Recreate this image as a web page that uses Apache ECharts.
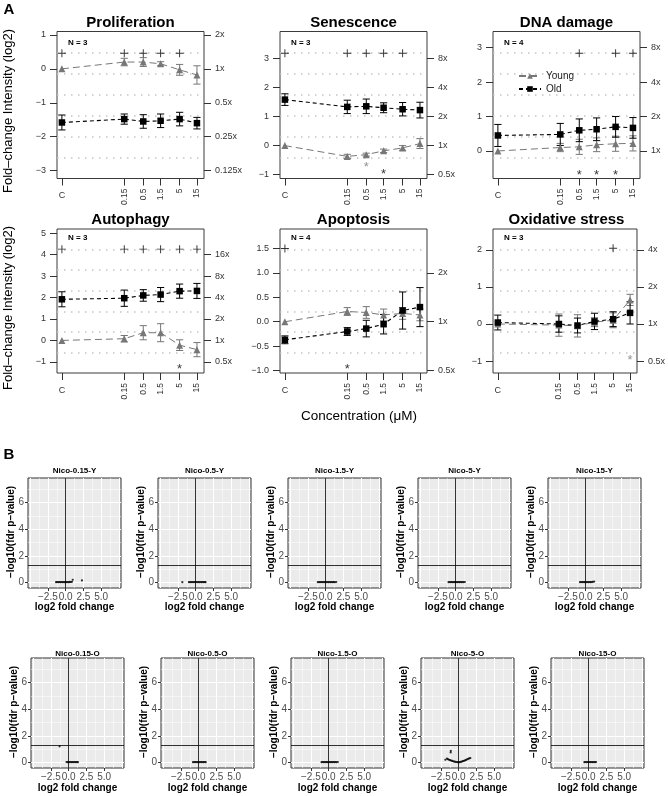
<!DOCTYPE html>
<html><head><meta charset="utf-8">
<script src="https://cdn.jsdelivr.net/npm/echarts@6/dist/echarts.min.js"></script>
<style>html,body{margin:0;padding:0;background:#fff}#c{width:668px;height:796px}</style>
</head><body><div id="c"></div>
<script>
const FONT = '"Liberation Sans", Arial, Helvetica, sans-serif';

// ---------- Panel A data ----------
const concentrations = ['C', '0.15', '0.5', '1.5', '5', '15'];

const prolifYoung    = [0, 0.20, 0.20, 0.15, -0.03, -0.18];
const prolifYoungErr = [0, 0.11, 0.13, 0.06, 0.16, 0.27];
const prolifOld      = [-1.58, -1.48, -1.55, -1.53, -1.48, -1.60];
const prolifOldErr   = [0.22, 0.15, 0.20, 0.20, 0.20, 0.17];
const prolifPlus     = ['C', '0.15', '0.5', '1.5', '5'];
const prolifPlusY    = 0.46;
const prolifStars    = [];
const prolifTicks    = [-3, -2, -1, 0, 1];
const prolifFold     = [-3, -2, -1, 0, 1];

const senYoung    = [0, -0.37, -0.31, -0.18, -0.08, 0.07];
const senYoungErr = [0, 0.07, 0.05, 0.06, 0.08, 0.17];
const senOld      = [1.58, 1.33, 1.35, 1.30, 1.25, 1.22];
const senOldErr   = [0.20, 0.23, 0.25, 0.17, 0.23, 0.27];
const senPlus     = ['C', '0.15', '0.5', '1.5', '5'];
const senPlusY    = 3.17;
const senStars    = [['0.5', -0.64, 'young'], ['1.5', -0.89, 'old']];
const senTicks    = [-1, 0, 1, 2, 3];
const senFold     = [-1, 0, 1, 2, 3];

const dnaYoung    = [0, 0.10, 0.12, 0.18, 0.21, 0.22];
const dnaYoungErr = [0, 0.12, 0.22, 0.20, 0.22, 0.22];
const dnaOld      = [0.45, 0.48, 0.60, 0.63, 0.70, 0.67];
const dnaOldErr   = [0.32, 0.32, 0.33, 0.33, 0.30, 0.30];
const dnaPlus     = ['0.5', '5', '15'];
const dnaPlusY    = 2.84;
const dnaStars    = [['0.5', -0.61, 'old'], ['1.5', -0.61, 'old'], ['5', -0.61, 'old']];
const dnaTicks    = [0, 1, 2, 3];
const dnaFold     = [0, 1, 2, 3];

const autoYoung    = [0, 0.08, 0.36, 0.36, -0.22, -0.43];
const autoYoungErr = [0, 0.15, 0.33, 0.42, 0.25, 0.33];
const autoOld      = [1.92, 1.97, 2.10, 2.14, 2.30, 2.31];
const autoOldErr   = [0.35, 0.38, 0.27, 0.33, 0.33, 0.35];
const autoPlus     = ['C', '0.15', '0.5', '1.5', '5', '15'];
const autoPlusY    = 4.26;
const autoStars    = [['5', -1.2, 'old']];
const autoTicks    = [-1, 0, 1, 2, 3, 4, 5];
const autoFold     = [-1, 0, 1, 2, 3, 4];

const apoYoung    = [0, 0.21, 0.19, 0.14, 0.17, 0.14];
const apoYoungErr = [0, 0.08, 0.12, 0.12, 0.12, 0.12];
const apoOld      = [-0.37, -0.20, -0.14, -0.05, 0.23, 0.30];
const apoOldErr   = [0.08, 0.08, 0.17, 0.20, 0.38, 0.40];
const apoPlus     = ['C'];
const apoPlusY    = 1.5;
const apoStars    = [['0.15', -0.92, 'old']];
const apoTicks    = [-1.0, -0.5, 0.0, 0.5, 1.0, 1.5];
const apoFold     = [-1, 0, 1];

const oxYoung    = [0, -0.03, -0.05, 0.05, 0.10, 0.65];
const oxYoungErr = [0, 0.30, 0.30, 0.12, 0.20, 0.15];
const oxOld      = [0.04, 0.00, -0.04, 0.07, 0.13, 0.30];
const oxOldErr   = [0.20, 0.22, 0.20, 0.22, 0.20, 0.30];
const oxPlus     = ['5'];
const oxPlusY    = 2.04;
const oxStars    = [['15', -0.91, 'young']];
const oxTicks    = [-1, 0, 1, 2];
const oxFold     = [-1, 0, 1, 2];

// ---------- Panel B data (volcano points: [log2FC, -log10 fdr]) ----------
const volcanoXTicks = [-2.5, 0, 2.5, 5];
const volcanoYTicks = [0, 2, 4, 6];
const sigThreshold = 1.3;

const volNico015Y = [[-1.35,0.02],[-1.2,0.03],[-1.05,0.02],[-0.9,0.03],[-0.75,0.02],[-0.6,0.03],[-0.45,0.02],[-0.3,0.03],[-0.15,0.02],[0,0.03],[0.15,0.02],[0.3,0.03],[0.45,0.02],[0.6,0.04],[0.75,0.03],[0.9,0.05],[1.0,0.2],[2.3,0.15]];
const volNico05Y  = [[-1.87,0.02],[-0.95,0.02],[-0.8,0.03],[-0.65,0.02],[-0.5,0.03],[-0.35,0.02],[-0.2,0.03],[-0.05,0.02],[0.1,0.03],[0.25,0.02],[0.4,0.03],[0.55,0.02],[0.7,0.03],[0.85,0.02],[1.0,0.03],[1.15,0.02],[1.3,0.03],[1.4,0.02]];
const volNico15Y  = [[-1.1,0.02],[-0.95,0.03],[-0.8,0.02],[-0.65,0.03],[-0.5,0.02],[-0.35,0.03],[-0.2,0.02],[-0.05,0.03],[0.1,0.02],[0.25,0.03],[0.4,0.02],[0.55,0.03],[0.7,0.02],[0.85,0.03],[1.0,0.02],[1.15,0.03],[1.3,0.02],[1.5,0.03]];
const volNico5Y   = [[-1.0,0.02],[-0.85,0.03],[-0.7,0.02],[-0.55,0.03],[-0.4,0.02],[-0.25,0.03],[-0.1,0.02],[0.05,0.03],[0.2,0.02],[0.35,0.03],[0.5,0.02],[0.65,0.03],[0.8,0.02],[0.95,0.03],[1.1,0.02],[1.3,0.03]];
const volNico15Y_ = [[-0.8,0.02],[-0.65,0.03],[-0.5,0.02],[-0.35,0.03],[-0.2,0.02],[-0.05,0.03],[0.1,0.02],[0.25,0.03],[0.4,0.02],[0.55,0.03],[0.7,0.02],[0.85,0.03],[1.0,0.04],[1.2,0.06]];
const volNico015O = [[-1.27,1.21],[-0.3,0.03],[-0.15,0.02],[0,0.03],[0.15,0.02],[0.3,0.03],[0.45,0.02],[0.6,0.03],[0.75,0.02],[0.9,0.03],[1.05,0.02],[1.2,0.03],[1.3,0.02]];
const volNico05O  = [[-0.8,0.02],[-0.65,0.03],[-0.5,0.02],[-0.35,0.03],[-0.2,0.02],[-0.05,0.03],[0.1,0.02],[0.25,0.03],[0.4,0.02],[0.55,0.03],[0.7,0.02],[0.85,0.03],[1.0,0.02]];
const volNico15O  = [[-1.0,0.02],[-0.85,0.03],[-0.7,0.02],[-0.55,0.03],[-0.4,0.02],[-0.25,0.03],[-0.1,0.02],[0.05,0.03],[0.2,0.02],[0.35,0.03],[0.5,0.02],[0.65,0.03],[0.8,0.02],[0.95,0.03],[1.1,0.02],[1.3,0.03]];
const volNico5O   = [[-1.87,0.2],[-1.65,0.28],[-1.5,0.24],[-1.35,0.2],[-1.2,0.17],[-1.05,0.14],[-0.9,0.11],[-0.75,0.08],[-0.6,0.06],[-0.45,0.04],[-0.3,0.03],[-0.15,0.02],[0,0.01],[0.15,0.02],[0.3,0.04],[0.45,0.06],[0.6,0.09],[0.75,0.12],[0.9,0.15],[1.05,0.19],[1.2,0.23],[1.35,0.27],[1.5,0.3],[1.65,0.33],[-1.1,0.87],[-1.12,0.75]];
const volNico15O_ = [[-0.6,0.02],[-0.45,0.03],[-0.3,0.02],[-0.15,0.03],[0,0.02],[0.15,0.03],[0.3,0.02],[0.45,0.03],[0.6,0.02],[0.75,0.03],[0.9,0.02],[1.05,0.03]];

const volcanoNames = ['Nico-0.15-Y','Nico-0.5-Y','Nico-1.5-Y','Nico-5-Y','Nico-15-Y',
                      'Nico-0.15-O','Nico-0.5-O','Nico-1.5-O','Nico-5-O','Nico-15-O'];
const volcanoData = [volNico015Y, volNico05Y, volNico15Y, volNico5Y, volNico15Y_,
                     volNico015O, volNico05O, volNico15O, volNico5O, volNico15O_];

// ---------- layout / build ----------
const CONTROL_POS = -2.54;
const X_MIN = -2.675, X_MAX = 1.37;
const xPos = concentrations.map(c => c === 'C' ? CONTROL_POS : Math.log10(parseFloat(c)));
const minus = s => String(s).replace('-', '\u2212');
const PLUS = 'path://M4.4,0h1.2v4.4h4.4v1.2h-4.4v4.4h-1.2v-4.4h-4.4v-1.2h4.4z';

const grids = [], xAxes = [], yAxes = [], series = [], graphics = [];

function txt(x, y, text, font, opts) {
  graphics.push(Object.assign({type: 'text', x, y, silent: true,
    style: {text, font, fill: '#000', align: 'center', verticalAlign: 'middle'}}, opts || {}));
}

function errorSeries(xi, yi, means, errs, color) {
  const data = means.map((m, i) => [xPos[i], m, errs[i]]).filter(d => d[2] > 0);
  return {type: 'custom', xAxisIndex: xi, yAxisIndex: yi, data, z: 2, silent: true,
    encode: {x: 0, y: 1},
    renderItem(params, api) {
      const x = api.value(0), m = api.value(1), e = api.value(2);
      const a = api.coord([x, m + e]), b = api.coord([x, m - e]);
      const cw = 3.6, st = {stroke: color, lineWidth: 1};
      return {type: 'group', children: [
        {type: 'line', shape: {x1: a[0], y1: a[1], x2: b[0], y2: b[1]}, style: st},
        {type: 'line', shape: {x1: a[0] - cw, y1: a[1], x2: a[0] + cw, y2: a[1]}, style: st},
        {type: 'line', shape: {x1: b[0] - cw, y1: b[1], x2: b[0] + cw, y2: b[1]}, style: st}
      ]};
    }};
}

function addTopPanel(p, l, t, w, h) {
  const g = grids.length;
  grids.push({left: l, top: t, width: w, height: h, show: true, borderColor: '#3a3a3a', borderWidth: 1, backgroundColor: 'transparent'});
  grids.push({left: l, top: t + h / 7, width: w, height: h * 5 / 7, show: false});
  const xi = xAxes.length, yi = yAxes.length;
  const numPos = xPos.slice(1);
  xAxes.push({gridIndex: g, type: 'value', min: X_MIN, max: X_MAX, position: 'bottom',
    axisLine: {show: false}, splitLine: {show: false},
    axisTick: {show: true, length: 7, customValues: xPos, lineStyle: {color: '#333'}},
    axisLabel: {customValues: numPos, rotate: 90, margin: 10, fontSize: 8.5, color: '#333', fontFamily: FONT,
      formatter: v => concentrations[xPos.findIndex(q => Math.abs(q - v) < 1e-6)]}});
  xAxes.push({gridIndex: g, type: 'value', min: X_MIN, max: X_MAX, position: 'bottom',
    axisLine: {show: false}, splitLine: {show: false}, axisTick: {show: false},
    axisLabel: {customValues: [CONTROL_POS], margin: 13, fontSize: 9, color: '#333', fontFamily: FONT, formatter: () => 'C'}});
  xAxes.push({gridIndex: g + 1, type: 'value', show: false, min: 0, max: 1});
  yAxes.push({gridIndex: g, type: 'value', min: p.yMin, max: p.yMax, position: 'left',
    axisLine: {show: false}, splitLine: {show: false},
    axisTick: {length: 7, customValues: p.ticks, lineStyle: {color: '#333'}},
    axisLabel: {customValues: p.ticks, fontSize: 9, color: '#333', margin: 11, fontFamily: FONT,
      formatter: v => minus(p.dec ? v.toFixed(1) : String(Math.round(v)))}});
  yAxes.push({gridIndex: g, type: 'value', min: p.yMin, max: p.yMax, position: 'right',
    axisLine: {show: false}, splitLine: {show: false},
    axisTick: {length: 7, customValues: p.fold, lineStyle: {color: '#333'}},
    axisLabel: {customValues: p.fold, fontSize: 9, color: '#333', margin: 11, fontFamily: FONT,
      formatter: v => Math.pow(2, Math.round(v)) + 'x'}});
  yAxes.push({gridIndex: g + 1, type: 'value', min: 0, max: 5, interval: 1,
    axisLine: {show: false}, axisTick: {show: false}, axisLabel: {show: false},
    splitLine: {show: true, lineStyle: {color: '#c4c4c4', width: 1.5, type: [1.5, 5.5]}}});

  const xy = vals => vals.map((v, i) => [xPos[i], v]);
  series.push(errorSeries(xi, yi, p.young, p.youngErr, '#777'));
  series.push(errorSeries(xi, yi, p.old, p.oldErr, '#000'));
  series.push({type: 'line', name: 'Young', xAxisIndex: xi, yAxisIndex: yi, data: xy(p.young),
    symbol: 'triangle', symbolSize: 7, itemStyle: {color: '#777'}, z: 3,
    lineStyle: {color: '#777', width: 1, type: [7, 4]}});
  series.push({type: 'line', name: 'Old', xAxisIndex: xi, yAxisIndex: yi, data: xy(p.old),
    symbol: 'rect', symbolSize: 6.5, itemStyle: {color: '#000'}, z: 3,
    lineStyle: {color: '#000', width: 1.1, type: [4, 3]}});
  series.push({type: 'scatter', xAxisIndex: xi, yAxisIndex: yi, silent: true, z: 3,
    data: p.plus.map(c => [xPos[concentrations.indexOf(c)], p.plusY]),
    symbol: PLUS, symbolSize: 8, itemStyle: {color: '#000'}});
  series.push({type: 'scatter', xAxisIndex: xi, yAxisIndex: yi, silent: true, z: 3,
    data: p.stars.map(s => ({value: [xPos[concentrations.indexOf(s[0])], s[1]],
      label: {color: s[2] === 'young' ? '#777' : '#000'}})),
    symbolSize: 1, itemStyle: {color: 'rgba(0,0,0,0)'},
    label: {show: true, position: 'inside', formatter: '*', fontSize: 13, fontFamily: FONT, offset: [0, 3]}});

  txt(l + w / 2, p.titleY, p.title, 'bold 15px ' + FONT);
  txt(l + 11, p.nY, p.n, 'bold 8px ' + FONT, {style: {text: p.n, font: 'bold 8px ' + FONT, fill: '#000', align: 'left', verticalAlign: 'middle'}});
}

const colLeft = [57, 280, 493];
const PW = 147;
const topPanels = [
  {title: 'Proliferation', n: 'N = 3', young: prolifYoung, youngErr: prolifYoungErr, old: prolifOld, oldErr: prolifOldErr, plus: prolifPlus, plusY: prolifPlusY, stars: prolifStars, ticks: prolifTicks, fold: prolifFold, yMin: -3.23, yMax: 1.1},
  {title: 'Senescence', n: 'N = 3', young: senYoung, youngErr: senYoungErr, old: senOld, oldErr: senOldErr, plus: senPlus, plusY: senPlusY, stars: senStars, ticks: senTicks, fold: senFold, yMin: -1.13, yMax: 3.92},
  {title: 'DNA damage', n: 'N = 4', young: dnaYoung, youngErr: dnaYoungErr, old: dnaOld, oldErr: dnaOldErr, plus: dnaPlus, plusY: dnaPlusY, stars: dnaStars, ticks: dnaTicks, fold: dnaFold, yMin: -0.8, yMax: 3.47},
  {title: 'Autophagy', n: 'N = 3', young: autoYoung, youngErr: autoYoungErr, old: autoOld, oldErr: autoOldErr, plus: autoPlus, plusY: autoPlusY, stars: autoStars, ticks: autoTicks, fold: autoFold, yMin: -1.52, yMax: 5.2},
  {title: 'Apoptosis', n: 'N = 4', young: apoYoung, youngErr: apoYoungErr, old: apoOld, oldErr: apoOldErr, plus: apoPlus, plusY: apoPlusY, stars: apoStars, ticks: apoTicks, fold: apoFold, yMin: -1.05, yMax: 1.9, dec: true},
  {title: 'Oxidative stress', n: 'N = 3', young: oxYoung, youngErr: oxYoungErr, old: oxOld, oldErr: oxOldErr, plus: oxPlus, plusY: oxPlusY, stars: oxStars, ticks: oxTicks, fold: oxFold, yMin: -1.32, yMax: 2.56}
];
const rowTop = [31.5, 229], rowH = [147, 144], titleY = [23.3, 219.5], nY = [42.5, 237.5];
topPanels.forEach((p, i) => {
  const r = Math.floor(i / 3), c = i % 3;
  p.titleY = titleY[r]; p.nY = nY[r];
  addTopPanel(p, colLeft[c], rowTop[r], PW, rowH[r]);
});

// volcano panels
const VX_MIN = -5.3, VX_MAX = 7.8, VY_MIN = -0.42, VY_MAX = 7.85;
const VW = 93, VH = 110;
const vRowTop = [478, 658], vRowLeft = [28, 31], vTitleY = [471, 654], vXTitleY = [607, 788];
function addVolcano(name, pts, l, t, r) {
  const g = grids.length;
  grids.push({left: l, top: t, width: VW, height: VH, show: true, backgroundColor: '#EBEBEB', borderColor: '#333', borderWidth: 1});
  const xi = xAxes.length, yi = yAxes.length;
  xAxes.push({gridIndex: g, type: 'value', min: VX_MIN, max: VX_MAX, axisLine: {show: false}, splitLine: {show: false},
    axisTick: {length: 3, customValues: volcanoXTicks, lineStyle: {color: '#333'}},
    axisLabel: {customValues: volcanoXTicks, fontSize: 10, color: '#4D4D4D', margin: 4, fontFamily: FONT,
      formatter: v => minus(v.toFixed(1))}});
  xAxes.push({gridIndex: g, type: 'value', min: VX_MIN, max: VX_MAX, axisLine: {show: false}, axisLabel: {show: false},
    axisTick: {show: false, customValues: [-5, -2.5, 0, 2.5, 5, 7.5]}, splitLine: {show: true, lineStyle: {color: '#fff', width: 1}}});
  xAxes.push({gridIndex: g, type: 'value', min: VX_MIN, max: VX_MAX, axisLine: {show: false}, axisLabel: {show: false},
    axisTick: {show: false, customValues: [-3.75, -1.25, 1.25, 3.75, 6.25]}, splitLine: {show: true, lineStyle: {color: '#fff', width: 0.5}}});
  yAxes.push({gridIndex: g, type: 'value', min: VY_MIN, max: VY_MAX, axisLine: {show: false},
    axisTick: {length: 3, customValues: volcanoYTicks, lineStyle: {color: '#333'}},
    axisLabel: {customValues: volcanoYTicks, fontSize: 10, color: '#4D4D4D', margin: 4, fontFamily: FONT},
    splitLine: {show: true, lineStyle: {color: '#fff', width: 1}}});
  yAxes.push({gridIndex: g, type: 'value', min: VY_MIN, max: VY_MAX, axisLine: {show: false}, axisLabel: {show: false},
    axisTick: {show: false, customValues: [1, 3, 5, 7]}, splitLine: {show: true, lineStyle: {color: '#fff', width: 0.5}}});
  series.push({type: 'scatter', xAxisIndex: xi, yAxisIndex: yi, data: pts, symbolSize: 2.2, silent: true,
    itemStyle: {color: '#000'}, z: 3,
    markLine: {silent: true, symbol: 'none', label: {show: false}, lineStyle: {color: '#000', width: 0.8, type: 'solid'},
      data: [{xAxis: 0}, {yAxis: sigThreshold}]}});
  txt(l + VW / 2, vTitleY[r], name, 'bold 8px ' + FONT);
  txt(l - 16.5, t + VH / 2 - 1, '\u2212log10(fdr p\u2212value)', 'bold 10px ' + FONT, {rotation: Math.PI / 2});
  txt(l + VW / 2, vXTitleY[r], 'log2 fold change', 'bold 10px ' + FONT);
}
volcanoNames.forEach((nm, i) => {
  const r = Math.floor(i / 5), c = i % 5;
  addVolcano(nm, volcanoData[i], vRowLeft[r] + 130 * c, vRowTop[r], r);
});

// axes never cross at zero
xAxes.concat(yAxes).forEach(a => { a.axisLine = Object.assign({}, a.axisLine, {onZero: false}); });

// free text
txt(9, 10, 'A', 'bold 15px ' + FONT);
txt(9, 455, 'B', 'bold 15px ' + FONT);
txt(8, 111, 'Fold\u2013change Intensity (log2)', '13px ' + FONT, {rotation: Math.PI / 2});
txt(8, 308, 'Fold\u2013change Intensity (log2)', '13px ' + FONT, {rotation: Math.PI / 2});
txt(359, 416, 'Concentration (\u03bcM)', '13.5px ' + FONT);

const chart = echarts.init(document.getElementById('c'), null, {renderer: 'canvas'});
chart.setOption({
  animation: false,
  textStyle: {fontFamily: FONT},
  grid: grids, xAxis: xAxes, yAxis: yAxes, series,
  legend: {data: ['Young', 'Old'], orient: 'vertical', left: 518, top: 71, itemWidth: 22, itemHeight: 7, itemGap: 3,
    padding: 0, selectedMode: false, textStyle: {fontSize: 10, color: '#222', fontFamily: FONT}},
  graphic: graphics
});
</script></body></html>
